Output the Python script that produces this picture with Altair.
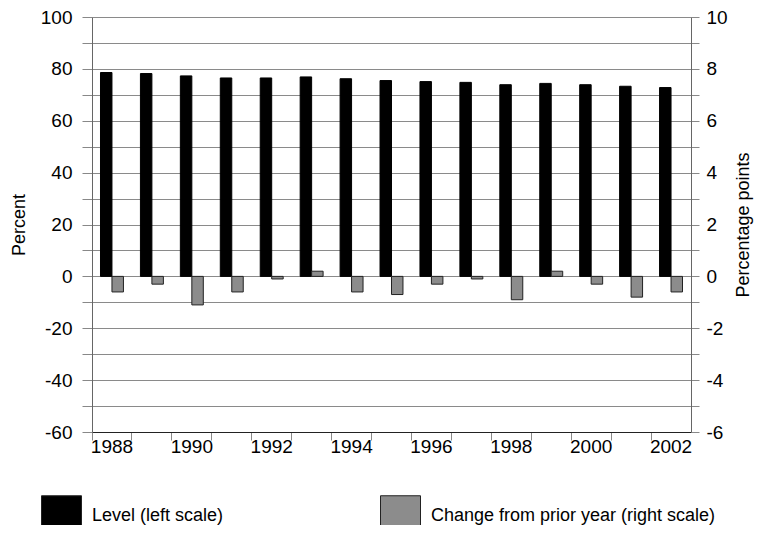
import altair as alt
import pandas as pd

years = list(range(1988, 2003))
level = [78.6, 78.2, 77.3, 76.5, 76.5, 76.9, 76.2, 75.5, 75.1, 74.8, 73.9, 74.4, 73.9, 73.3, 72.8]
change = [-0.6, -0.3, -1.1, -0.6, -0.1, 0.2, -0.6, -0.7, -0.3, -0.1, -0.9, 0.2, -0.3, -0.8, -0.6]
series_names = ["Level (left scale)", "Change from prior year (right scale)"]
left_ticks = list(range(-60, 101, 10))
right_ticks = list(range(-6, 11, 1))

df_level = pd.DataFrame({"year": years, "value": level, "series": series_names[0]})
df_change = pd.DataFrame({"year": years, "value": change, "series": series_names[1]})

FONT = "Liberation Sans"
x_scale = alt.Scale(paddingInner=0, paddingOuter=0)
xoff = alt.XOffset("series:N", scale=alt.Scale(domain=series_names, paddingInner=0, paddingOuter=0.74))
color = alt.Color(
    "series:N",
    scale=alt.Scale(domain=series_names, range=["#000000", "#8c8c8c"]),
    legend=alt.Legend(
        title=None, orient="none", legendX=-51, legendY=478, direction="horizontal",
        symbolType="square", symbolSize=1600, symbolStrokeColor="#222222", symbolStrokeWidth=1,
        symbolOpacity=1, labelFont=FONT, labelFontSize=18, labelColor="black", labelOffset=10,
        labelLimit=400, columnPadding=154, padding=0,
    ),
)

left = alt.Chart(df_level).mark_bar(stroke="#000000", strokeWidth=1).encode(
    x=alt.X("year:O", scale=x_scale, title=None,
            axis=alt.Axis(orient="bottom", bandPosition=0, labels=False, ticks=True, tickSize=8,
                          tickColor="#888888", domainColor="#222222", domainWidth=1.2, grid=False)),
    xOffset=xoff,
    y=alt.Y("value:Q", scale=alt.Scale(domain=[-60, 100], nice=False, zero=False),
            axis=alt.Axis(orient="left", values=left_ticks,
                          labelExpr="datum.value % 20 == 0 ? toString(datum.value) : ''",
                          grid=True, gridColor="#8a8a8a", gridWidth=1.2,
                          tickSize=10, tickColor="#888888", domainColor="#666666",
                          labelPadding=10, labelFont=FONT, labelFontSize=19, labelColor="black",
                          title="Percent", titleFont=FONT, titleFontSize=18, titleFontWeight="normal",
                          titleColor="black", titlePadding=12)),
    color=color,
)

right = alt.Chart(df_change).mark_bar(stroke="#222222", strokeWidth=1).encode(
    x=alt.X("year:O", scale=x_scale, title=None,
            axis=alt.Axis(orient="bottom", ticks=False, tickSize=0, domain=False, grid=False,
                          labelExpr="datum.value % 2 == 0 ? datum.label : ''", labelAngle=0,
                          labelPadding=5, labelFont=FONT, labelFontSize=19, labelColor="black")),
    xOffset=xoff,
    y=alt.Y("value:Q", scale=alt.Scale(domain=[-6, 10], nice=False, zero=False),
            axis=alt.Axis(orient="right", values=right_ticks,
                          labelExpr="datum.value % 2 == 0 ? toString(datum.value) : ''",
                          grid=False, tickSize=8, tickColor="#888888", domainColor="#666666",
                          labelPadding=7, labelFont=FONT, labelFontSize=19, labelColor="black",
                          title="Percentage points", titleFont=FONT, titleFontSize=18,
                          titleFontWeight="normal", titleColor="black", titlePadding=7,
                          titleAngle=270, titleBaseline="top")),
    color=color,
)

chart = (
    alt.layer(left, right)
    .resolve_scale(y="independent")
    .resolve_axis(x="independent")
    .properties(width=599, height=415, autosize=alt.AutoSizeParams(type="none"),
                padding={"left": 84, "top": 9, "right": 64, "bottom": 93})
    .configure_view(stroke=None)
    .configure(background="white")
)

chart.save("out.html", embed_options={"renderer": "svg", "actions": False})
